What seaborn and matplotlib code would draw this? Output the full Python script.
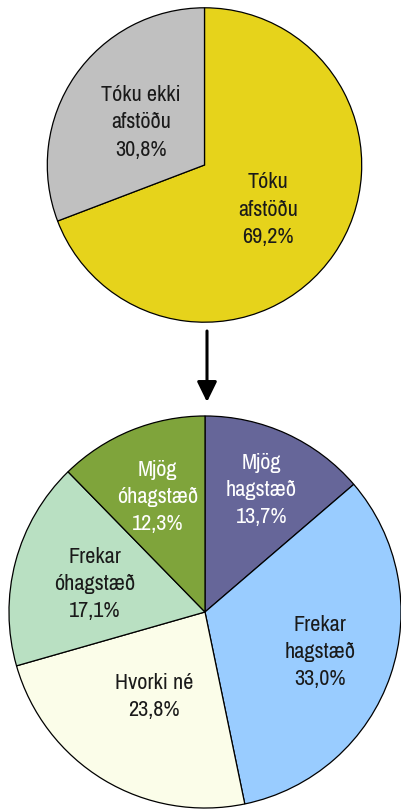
import numpy as np
import matplotlib
matplotlib.use("Agg")
import matplotlib.pyplot as plt
import seaborn as sns

# ---- data ----
top_labels = ["Tóku\nafstöðu", "Tóku ekki\nafstöðu"]
top_values = [69.2, 30.8]
top_colors = ["#E6D31B", "#C0C0C0"]
top_text_colors = ["#1a1a1a", "#1a1a1a"]

bot_labels = ["Mjög\nhagstæð", "Frekar\nhagstæð", "Hvorki né", "Frekar\nóhagstæð", "Mjög\nóhagstæð"]
bot_values = [13.7, 33.0, 23.8, 17.1, 12.3]
bot_colors = ["#666699", "#99CCFF", "#FBFDE9", "#B9E0C2", "#7FA43B"]
bot_text_colors = ["white", "#1a1a1a", "#1a1a1a", "#1a1a1a", "white"]

sns.set_theme(style="white")
plt.rcParams["font.family"] = ["Archivo Narrow", "Liberation Sans", "DejaVu Sans"]

W, H = 402, 812
fig = plt.figure(figsize=(W / 100, H / 100), dpi=100)
fig.patch.set_facecolor("white")


def px_axes(cx, cy, r):
    return fig.add_axes([(cx - r) / W, 1 - (cy + r) / H, 2 * r / W, 2 * r / H])


def fmt(v):
    return f"{v:.1f}".replace(".", ",") + "%"


def draw_pie(ax, values, labels, colors, tcolors, dists):
    wedges, _ = ax.pie(values, colors=colors, startangle=90, counterclock=False,
                       radius=1.0,
                       wedgeprops=dict(edgecolor="black", linewidth=0.9))
    for w, lab, v, tc, d in zip(wedges, labels, values, tcolors, dists):
        ang = np.deg2rad((w.theta1 + w.theta2) / 2)
        ax.text(d * np.cos(ang), d * np.sin(ang), f"{lab}\n{fmt(v)}",
                ha="center", va="center", fontsize=16, color=tc,
                linespacing=1.45)
    ax.set_xlim(-1.005, 1.005)
    ax.set_ylim(-1.005, 1.005)
    ax.set_axis_off()


ax1 = px_axes(204.5, 166, 158)
draw_pie(ax1, top_values, top_labels, top_colors, top_text_colors, [0.49, 0.49])

ax2 = px_axes(205, 613, 197)
draw_pie(ax2, bot_values, bot_labels, bot_colors, bot_text_colors,
         [0.69, 0.62, 0.50, 0.58, 0.64])

# arrow between pies
fig.add_artist(matplotlib.patches.FancyArrowPatch(
    (207 / W, 1 - 332 / H), (207 / W, 1 - 403 / H),
    transform=fig.transFigure, arrowstyle="-|>,head_length=0.47,head_width=0.23",
    mutation_scale=26, linewidth=2.2, color="black", shrinkA=0, shrinkB=0))

fig.savefig("out.png", dpi=100, facecolor="white")
